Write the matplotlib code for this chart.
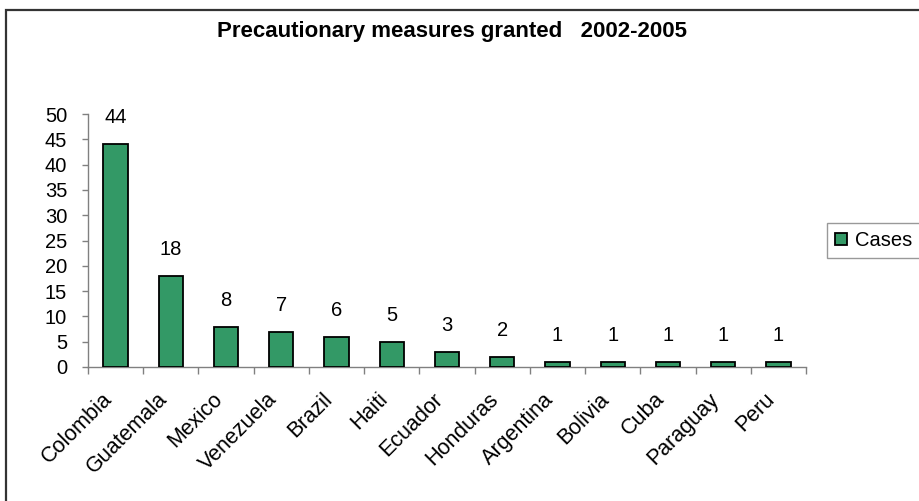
import matplotlib
matplotlib.use("Agg")
import matplotlib.pyplot as plt
from matplotlib.lines import Line2D
from matplotlib.transforms import ScaledTranslation
import numpy as np

plt.rcParams['font.family'] = ['Liberation Sans', 'DejaVu Sans']

countries = ["Colombia", "Guatemala", "Mexico", "Venezuela", "Brazil", "Haiti",
             "Ecuador", "Honduras", "Argentina", "Bolivia", "Cuba", "Paraguay", "Peru"]
cases = [44, 18, 8, 7, 6, 5, 3, 2, 1, 1, 1, 1, 1]
yticks = [0, 5, 10, 15, 20, 25, 30, 35, 40, 45, 50]
title = "Precautionary measures granted   2002-2005"
series_name = "Cases"

W, H = 920, 501
FS = 14.5
fig = plt.figure(figsize=(W / 100, H / 100), dpi=100)
fig.patch.set_facecolor("white")

# outer chart border (top/left visible, right/bottom beyond the image)
fig.add_artist(Line2D([6 / W, 6 / W, 1.0], [0.0, 1 - 10 / H, 1 - 10 / H],
                      transform=fig.transFigure, color="#333333", linewidth=1.6,
                      solid_joinstyle="miter"))

ax = fig.add_axes([88 / W, 1 - 367 / H, (806 - 88) / W, (367 - 114) / H])
x = np.arange(len(countries))
bars = ax.bar(x, cases, width=0.44, color="#339966", edgecolor="black",
              linewidth=1.3, label=series_name, zorder=3)

for xi, v in zip(x, cases):
    ax.annotate(str(v), (xi, v), xytext=(0, 19), textcoords="offset points",
                ha="center", va="center", fontsize=FS)

ax.set_xlim(-0.5, len(countries) - 0.5)
ax.set_ylim(0, 50)
ax.set_yticks(yticks)
ax.set_yticklabels([str(t) for t in yticks], fontsize=FS)
ax.tick_params(axis="y", direction="out", length=4, width=1, color="#808080", pad=11)

ax.set_xticks(x)
ax.set_xticklabels(countries, rotation=45, ha="right", va="center",
                   rotation_mode="anchor", fontsize=15.5)
ax.tick_params(axis="x", which="major", length=0, pad=21)
shift = ScaledTranslation(-7 / 100, 0, fig.dpi_scale_trans)
for lbl in ax.get_xticklabels():
    lbl.set_transform(lbl.get_transform() + shift)
ax.set_xticks(np.arange(-0.5, len(countries), 1.0), minor=True)
ax.tick_params(axis="x", which="minor", direction="out", length=5, width=1, color="#808080")

for s in ["top", "right"]:
    ax.spines[s].set_visible(False)
for s in ["left", "bottom"]:
    ax.spines[s].set_color("#808080")
    ax.spines[s].set_linewidth(1)

fig.text(452 / W, 1 - 31 / H, title, ha="center", va="center",
         fontsize=16, fontweight="bold")

leg = fig.legend(handles=[bars], labels=[series_name], loc="upper left",
                 bbox_to_anchor=(827 / W, 1 - 223 / H), fontsize=FS,
                 frameon=True, fancybox=False, handlelength=0.6, handleheight=0.6,
                 handletextpad=0.4, borderpad=0.4, borderaxespad=0)
leg.get_frame().set_edgecolor("#808080")
leg.get_frame().set_linewidth(1)

fig.savefig("out.png", dpi=100, facecolor="white")
